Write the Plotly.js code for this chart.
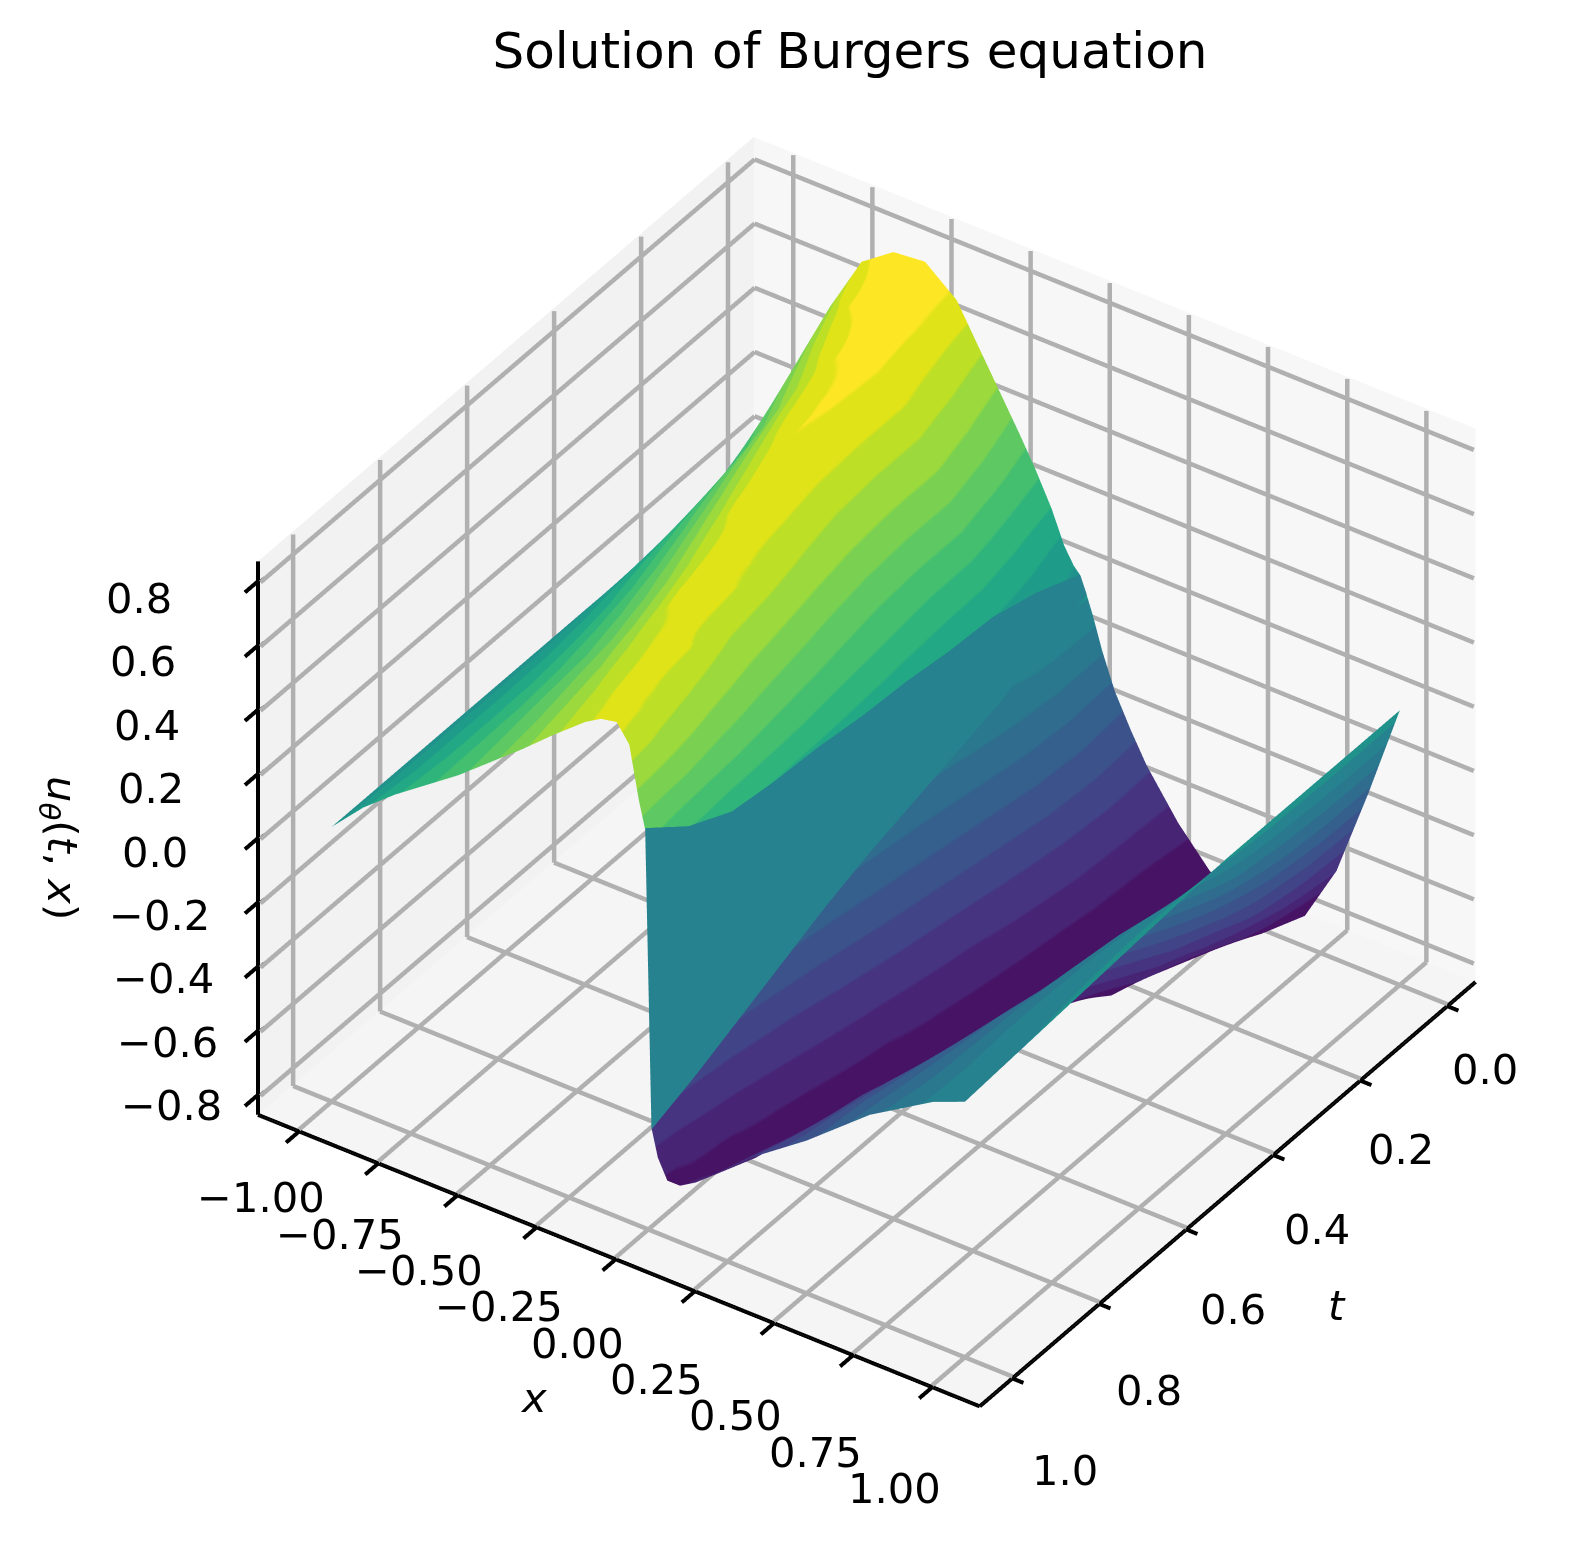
<!DOCTYPE html>
<html><head><meta charset="utf-8">
<script src="https://cdn.plot.ly/plotly-3.0.1.min.js"></script>
<style>html,body{margin:0;padding:0;background:#fff;overflow:hidden}#g{width:1572px;height:1543px}</style>
</head><body><div id="g"></div>
<script>
const tVals=[0,.1,.2,.3,.4,.5,.6,.7,.8,.9,1];
const xVals=[-1,-.9,-.8,-.7,-.6,-.5,-.4,-.3,-.2,-.15,-.1,-.06,-.03,-.011,-.01,.01,.011,.03,.06,.1,.15,.2,.3,.4,.5,.6,.7,.8,.9,1];
const u00=[0,.3,.54,.72,.79,.8,.72,.55,.38,.29,.19,.09,.04,.02,.02,-.03,-.035,-.09,-.19,-.3,-.4,-.49,-.63,-.74,-.79,-.79,-.76,-.58,-.3,0];
const u01=[0,.22,.43,.6,.74,.785,.74,.62,.46,.37,.26,.17,.11,.08,.08,-.08,-.08,-.11,-.19,-.28,-.38,-.48,-.65,-.76,-.79,-.77,-.7,-.55,-.3,0];
const u02=[0,.16,.32,.48,.63,.74,.76,.67,.52,.43,.33,.23,.16,.12,.12,-.14,-.14,-.16,-.22,-.3,-.4,-.5,-.66,-.77,-.77,-.71,-.62,-.49,-.27,0];
const u03=[0,.14,.28,.42,.56,.69,.75,.67,.52,.43,.33,.24,.17,.13,.13,-.18,-.18,-.21,-.27,-.35,-.45,-.54,-.69,-.77,-.74,-.65,-.53,-.38,-.22,0];
const u04=[0,.12,.24,.36,.49,.62,.73,.68,.54,.45,.35,.27,.19,.15,.15,-.22,-.22,-.26,-.32,-.4,-.5,-.59,-.71,-.74,-.64,-.52,-.39,-.26,-.13,0];
const u05=[0,.1,.2,.31,.43,.55,.68,.71,.58,.49,.39,.31,.22,.16,.16,-.26,-.26,-.3,-.37,-.45,-.55,-.63,-.73,-.68,-.56,-.44,-.32,-.2,-.1,-.01];
const u06=[0,.09,.18,.28,.38,.49,.61,.71,.64,.54,.44,.35,.26,.18,.18,-.31,-.31,-.36,-.43,-.51,-.6,-.67,-.72,-.62,-.5,-.39,-.29,-.18,-.09,-.02];
const u07=[0,.09,.17,.26,.35,.45,.56,.68,.68,.58,.49,.4,.31,.19,.19,-.37,-.37,-.42,-.5,-.57,-.65,-.7,-.68,-.56,-.46,-.36,-.26,-.17,-.09,-.03];
const u08=[0,.09,.17,.25,.34,.43,.52,.63,.69,.67,.56,.46,.36,.21,.21,-.43,-.43,-.49,-.56,-.63,-.69,-.71,-.62,-.51,-.42,-.33,-.25,-.17,-.09,-.04];
const u09=[0,.09,.17,.25,.33,.41,.5,.59,.67,.69,.64,.54,.43,.28,.28,-.49,-.49,-.55,-.62,-.68,-.7,-.67,-.57,-.48,-.39,-.31,-.24,-.17,-.1,-.05];
const u10=[0,.1,.18,.25,.32,.4,.48,.565,.645,.675,.685,.63,.47,.39,.39,-.54,-.54,-.62,-.68,-.68,-.65,-.61,-.52,-.45,-.38,-.3,-.22,-.16,-.1,-.06];
const rows=[u00,u01,u02,u03,u04,u05,u06,u07,u08,u09,u10];
const bands=['#471365','#471365','#482475','#463480','#414487','#3b528b','#355f8d','#2f6c8e','#2a788e','#26828e','#21918c','#1e9c89','#22a884','#2fb47c','#44bf70','#5ec962','#7ad151','#9bd93c','#bddf26','#dfe318','#fde725'];
const wallColumns=[14,15], wallLevel=-.11;
const tTicks=[0,.2,.4,.6,.8,1], xTicks=[-1,-.75,-.5,-.25,0,.25,.5,.75,1], zTicks=[-.8,-.6,-.4,-.2,0,.2,.4,.6,.8];
const tR=[-.065,1.075], xR=[-1.13,1.15], zR=[-.862,.862];
const tOuter=[-.115,1.125], xOuter=[-1.23,1.25], zOuter=[-.937,.937];
const paneLeft='#f2f2f2', paneRight='#f7f7f7', paneFloor='#f5f5f5';

const z=xVals.map((_,j)=>rows.map(r=>r[j]));
const sc=xVals.map((_,j)=>rows.map(r=>wallColumns.includes(j)?wallLevel:r[j]));
const cs=[];bands.forEach((c,k)=>{cs.push([k/bands.length,c]);cs.push([(k+1)/bands.length,c]);});

function segs(list){const X=[],Y=[],Z=[];list.forEach(s=>{X.push(s[0],s[3],null);Y.push(s[1],s[4],null);Z.push(s[2],s[5],null);});return {X,Y,Z};}
const eT=tR[0]+.004, eX=xR[0]+.008, eZ=zR[0]+.006;
const grid=[],black=[];
tTicks.forEach(t=>{grid.push([t,eX,eZ,t,eX,zR[1]]);grid.push([t,eX,eZ,t,xR[1],eZ]);
  black.push([t,xR[1]-.02,zR[0],t,xR[1]+.035,zR[0]]);});
xTicks.forEach(x=>{grid.push([eT,x,eZ,eT,x,zR[1]]);grid.push([eT,x,eZ,tR[1],x,eZ]);
  black.push([tR[1]-.012,x,zR[0],tR[1]+.03,x,zR[0]]);});
zTicks.forEach(v=>{grid.push([eT,eX,v,tR[1],eX,v]);grid.push([eT,eX,v,eT,xR[1],v]);
  black.push([tR[1]-.012,xR[0],v,tR[1]+.03,xR[0],v]);});
black.push([tR[1],xR[0],zR[0],tR[1],xR[1],zR[0]],[tR[1],xR[1],zR[0],tR[0],xR[1],zR[0]],[tR[1],xR[0],zR[0],tR[1],xR[0],zR[1]]);
const g=segs(grid),b=segs(black);

const tickFont={family:'DejaVu Sans',size:41.67,color:'#000'};
const lab=(x,y,z,text,dx,dy)=>({x,y,z,text,showarrow:false,xanchor:'center',yanchor:'middle',xshift:dx,yshift:-dy,font:tickFont});
const minus=s=>s.replace('-','\u2212');
const sceneLabels=[
 ...tTicks.map(t=>lab(t,xR[1],zR[0],t.toFixed(1),38+15*t,63+29*t)),
 ...xTicks.map(x=>lab(tR[1],x,zR[0],minus(x.toFixed(2)),-38,84+17.5*x)),
 ...zTicks.map(v=>lab(tR[1],xR[0],v,minus(v.toFixed(1)),-102.5-20.6*v,14+3.75*v))];
const axis=(range)=>({range,autorange:false,showticklabels:false,title:{text:''},showgrid:false,showline:false,ticks:'',zeroline:false,showspikes:false,showbackground:false});
const note=(text,px,py,extra)=>Object.assign({text,xref:'paper',yref:'paper',x:px/1572,y:1-py/1543,xanchor:'center',yanchor:'middle',showarrow:false,font:tickFont},extra||{});
const layout={width:1572,height:1543,margin:{l:0,r:0,t:0,b:0},paper_bgcolor:'#fff',showlegend:false,
 title:{text:'Solution of Burgers equation',font:{family:'DejaVu Sans',size:50,color:'#000'},x:850/1572,xanchor:'center',y:1-50/1543,yanchor:'middle'},
 scene:{domain:{x:[0,1],y:[0,1]},aspectmode:'manual',aspectratio:{x:1.2346,y:1.2346,z:.964},
  camera:{projection:{type:'orthographic'},up:{x:0,y:0,z:1},center:{x:.059,y:-.0865,z:0},eye:{x:1.126,y:.6465,z:.941}},
  xaxis:axis(tOuter),yaxis:axis(xOuter),zaxis:axis(zOuter),annotations:sceneLabels},
 annotations:[
  note('<i>x</i>',533,1397),note('<i>t</i>',1337,1305),
  note('<i>u<sub>θ</sub></i>(<i>t</i>, <i>x</i>)',60,848,{textangle:90})
 ]};
const line=(d,color,width)=>({type:'scatter3d',mode:'lines',x:d.X,y:d.Y,z:d.Z,line:{color,width},hoverinfo:'skip',showlegend:false,connectgaps:false});
const flat={ambient:1,diffuse:0,specular:0,roughness:1,fresnel:0};
const pane=(X,Y,Z,c)=>({type:'surface',x:X,y:Y,z:Z,surfacecolor:[[0,0],[0,0]],cmin:0,cmax:1,colorscale:[[0,c],[1,c]],showscale:false,hoverinfo:'skip',lighting:flat});
const panes=[
 pane([[tR[0],tR[1]],[tR[0],tR[1]]],[[xR[0],xR[0]],[xR[1],xR[1]]],[[zR[0],zR[0]],[zR[0],zR[0]]],paneFloor),
 pane([[tR[0],tR[1]],[tR[0],tR[1]]],[[xR[0],xR[0]],[xR[0],xR[0]]],[[zR[0],zR[0]],[zR[1],zR[1]]],paneLeft),
 pane([[tR[0],tR[0]],[tR[0],tR[0]]],[[xR[0],xR[1]],[xR[0],xR[1]]],[[zR[0],zR[0]],[zR[1],zR[1]]],paneRight)];
Plotly.newPlot('g',[...panes,line(g,'#b0b0b0',9),line(b,'#000',8),
 {type:'surface',x:tVals,y:xVals,z,surfacecolor:sc,cmin:-.82,cmax:.82,colorscale:cs,showscale:false,hoverinfo:'skip',lighting:flat}],layout,{displayModeBar:false});
</script></body></html>
